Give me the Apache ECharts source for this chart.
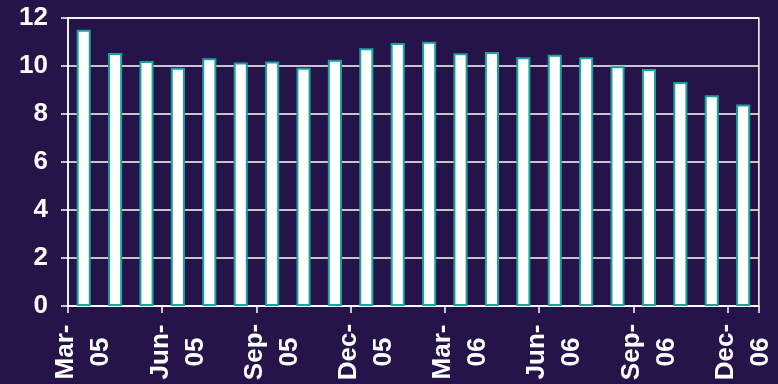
<!DOCTYPE html>
<html>
<head>
<meta charset="utf-8">
<script src="https://cdn.jsdelivr.net/npm/echarts@6/dist/echarts.min.js"></script>
<style>
html,body{margin:0;padding:0;background:#26134a;}
#c{width:778px;height:384px;}
</style>
</head>
<body>
<div id="c"></div>
<script>
const categories = ["Mar-\n05","Apr-\n05","May-\n05","Jun-\n05","Jul-\n05","Aug-\n05","Sep-\n05","Oct-\n05","Nov-\n05","Dec-\n05","Jan-\n06","Feb-\n06","Mar-\n06","Apr-\n06","May-\n06","Jun-\n06","Jul-\n06","Aug-\n06","Sep-\n06","Oct-\n06","Nov-\n06","Dec-\n06"];
const values = [11.51,10.54,10.21,9.93,10.32,10.15,10.19,9.93,10.26,10.74,10.96,11.01,10.53,10.58,10.36,10.47,10.36,9.99,9.88,9.33,8.78,8.40];
const yTicks = [0,2,4,6,8,10,12];

const chart = echarts.init(document.getElementById('c'), null, {renderer:'canvas'});
chart.setOption({
  backgroundColor:'#26134a',
  animation:false,
  grid:{left:68,right:12,top:18,bottom:78,show:true,borderColor:'#ffffff',borderWidth:1.5,backgroundColor:'transparent'},
  xAxis:{
    type:'category',
    data:categories,
    boundaryGap:true,
    axisLine:{lineStyle:{color:'#ffffff',width:1.5}},
    axisTick:{show:true,interval:2,length:7,alignWithLabel:false,lineStyle:{color:'#ffffff',width:1.5}},
    axisLabel:{interval:2,rotate:90,align:'center',verticalAlign:'middle',margin:46,color:'#ffffff',fontFamily:'Liberation Sans, Arial, sans-serif',fontWeight:'bold',fontSize:26,lineHeight:35}
  },
  yAxis:{
    type:'value',min:0,max:12,interval:2,
    axisLine:{show:true,lineStyle:{color:'#ffffff',width:1.5}},
    axisTick:{show:true,length:7,lineStyle:{color:'#ffffff',width:1.5}},
    splitLine:{show:true,lineStyle:{color:'#ffffff',width:1.5}},
    axisLabel:{color:'#ffffff',fontFamily:'Liberation Sans, Arial, sans-serif',fontWeight:'bold',fontSize:26,margin:20,
      formatter:function(v){return yTicks.indexOf(v)>=0?String(v):'';}}
  },
  series:[{
    type:'bar',
    data:values,
    barCategoryGap:'55%',
    itemStyle:{color:'#ffffff',borderColor:'#18a39d',borderWidth:2}
  }]
});
</script>
</body>
</html>
